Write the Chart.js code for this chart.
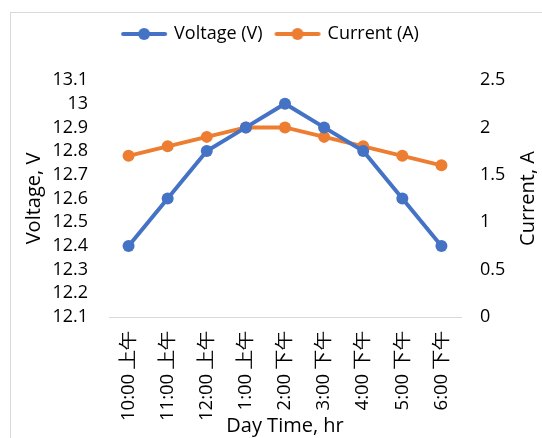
<!DOCTYPE html>
<html><head><meta charset="utf-8">
<script src="https://cdn.jsdelivr.net/npm/chart.js@4"></script>
<style>
html,body{margin:0;padding:0;background:#fff;overflow:hidden;width:542px;height:438px}
#frame{position:absolute;left:10px;top:12px;width:560px;height:460px;border:1px solid #d9d9d9;box-sizing:border-box}
#wrap{position:absolute;left:0;top:0;width:542px;height:438px}
</style></head>
<body>
<div id="frame"></div>
<div id="wrap"><canvas id="c" width="542" height="438"></canvas></div>
<script>
const categories = ['10:00 上午','11:00 上午','12:00 上午','1:00 上午','2:00 下午','3:00 下午','4:00 下午','5:00 下午','6:00 下午'];
const voltage = [12.4, 12.6, 12.8, 12.9, 13.0, 12.9, 12.8, 12.6, 12.4];
const current = [1.7, 1.8, 1.9, 2.0, 2.0, 1.9, 1.8, 1.7, 1.6];
const voltageTicks = [12.1, 12.2, 12.3, 12.4, 12.5, 12.6, 12.7, 12.8, 12.9, 13.0, 13.1];
const currentTicks = [0, 0.5, 1, 1.5, 2, 2.5];

const BLUE = '#4472C4', ORANGE = '#ED7D31';
const FONT = "'Open Sans', sans-serif";
const TXT = '#000';

function legendImg(color){
  const c = document.createElement('canvas');
  c.width = 48; c.height = 14;
  const x = c.getContext('2d');
  x.strokeStyle = color; x.lineWidth = 4; x.lineCap = 'round';
  x.beginPath(); x.moveTo(3,7); x.lineTo(45,7); x.stroke();
  x.fillStyle = color; x.beginPath(); x.arc(24,7,6,0,Math.PI*2); x.fill();
  return c;
}
const legendImgs = [legendImg(BLUE), legendImg(ORANGE)];

const rightTitle = {
  id: 'rightTitle',
  afterDraw(chart){
    const ctx = chart.ctx, a = chart.chartArea;
    ctx.save();
    ctx.translate(528, (a.top + a.bottom)/2);
    ctx.rotate(-Math.PI/2);
    ctx.font = "20px " + FONT;
    ctx.fillStyle = TXT;
    ctx.textAlign = 'center';
    ctx.textBaseline = 'middle';
    ctx.fillText('Current, A', 0, 0);
    ctx.restore();
  }
};

const legendFix = {
  id: 'legendFix',
  beforeLayout(chart){
    const lg = chart.legend;
    if (lg && !lg._patched){
      const orig = lg.fit;
      lg.fit = function(){ orig.call(this); this.height = 69; };
      lg._patched = true;
    }
  }
};

new Chart(document.getElementById('c'), {
  type: 'line',
  data: {
    labels: categories,
    datasets: [
      { label: 'Voltage (V)', data: voltage, yAxisID: 'y', borderColor: BLUE, backgroundColor: BLUE,
        borderWidth: 4, pointRadius: 6, pointHoverRadius: 6, pointBackgroundColor: BLUE, pointBorderWidth: 0, tension: 0 },
      { label: 'Current (A)', data: current, yAxisID: 'y1', borderColor: ORANGE, backgroundColor: ORANGE,
        borderWidth: 4, pointRadius: 6, pointHoverRadius: 6, pointBackgroundColor: ORANGE, pointBorderWidth: 0, tension: 0 }
    ]
  },
  options: {
    responsive: false,
    animation: false,
    layout: { padding: { top: 11, left: 0, right: 0, bottom: 0 } },
    plugins: {
      tooltip: { enabled: false },
      legend: {
        position: 'top',
        labels: {
          usePointStyle: true,
          pointStyleWidth: 42,
          padding: 14,
          color: TXT,
          font: { family: FONT, size: 18 },
          generateLabels(chart){
            const items = Chart.defaults.plugins.legend.labels.generateLabels(chart);
            items.forEach((it,i)=>{ it.pointStyle = legendImgs[i]; });
            return items;
          }
        }
      }
    },
    scales: {
      x: {
        type: 'category',
        offset: true,
        grid: { display: false, drawTicks: false, offset: true },
        border: { display: true, color: '#d9d9d9', width: 1 },
        ticks: { minRotation: 90, maxRotation: 90, autoSkip: false, padding: 14, color: TXT, font: { family: FONT, size: 18.5 } },
        title: { display: true, text: 'Day Time, hr', color: TXT, font: { family: FONT, size: 20 }, padding: { top: 0, bottom: 0 } },
        afterFit(s){ s.height = 121; }
      },
      y: {
        position: 'left',
        min: voltageTicks[0], max: voltageTicks[voltageTicks.length-1],
        afterBuildTicks(s){ s.ticks = voltageTicks.map(v=>({value:v})); },
        grid: { display: false, drawTicks: false },
        border: { display: false },
        ticks: { autoSkip: false, padding: 21, color: TXT, font: { family: FONT, size: 18 }, callback: v => String(Number(v.toFixed(1))) },
        title: { display: true, text: 'Voltage, V', color: TXT, font: { family: FONT, size: 20 }, padding: { top: 22, bottom: 0 } },
        afterFit(s){ s.width = 109; }
      },
      y1: {
        position: 'right',
        min: currentTicks[0], max: currentTicks[currentTicks.length-1],
        afterBuildTicks(s){ s.ticks = currentTicks.map(v=>({value:v})); },
        grid: { display: false, drawTicks: false },
        border: { display: false },
        ticks: { autoSkip: false, padding: 19, color: TXT, font: { family: FONT, size: 18 }, callback: v => String(Number(v.toFixed(1))) },
        afterFit(s){ s.width = 81; }
      }
    }
  },
  plugins: [legendFix, rightTitle]
});
</script>
</body></html>
